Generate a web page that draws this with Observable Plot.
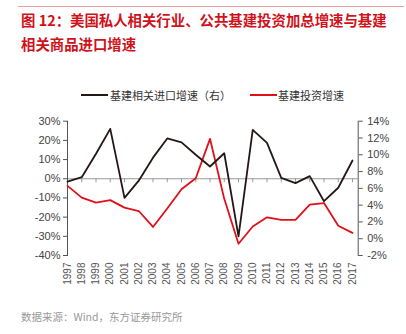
<!DOCTYPE html>
<html><head><meta charset="utf-8">
<script src="https://cdn.jsdelivr.net/npm/d3@7"></script>
<script src="https://cdn.jsdelivr.net/npm/@observablehq/plot@0.6"></script>
<style>
body{margin:0;background:#fff;}
#wrap{position:relative;width:406px;height:334px;overflow:hidden;font-family:"Liberation Sans","Noto Sans CJK SC",sans-serif;}
.abs{position:absolute;white-space:nowrap;}
#rule{left:18px;top:6px;width:386px;height:0;border-top:1.5px solid #e8a0a0;}
.title{left:21px;color:#d0121b;font-weight:bold;font-size:14.4px;font-family:"Noto Sans CJK SC",sans-serif;line-height:18px;}
.leg{top:88px;font-size:11px;color:#333;font-family:"Noto Sans CJK SC",sans-serif;line-height:14px;}
.sw{position:absolute;height:0;border-top:2px solid;}
#cap{left:21px;top:309px;font-size:10.5px;color:#999;font-family:"Noto Sans CJK SC",sans-serif;}
#plot{position:absolute;left:0;top:0;}
</style></head>
<body>
<div id="wrap">
  <div id="rule" class="abs"></div>
  <div class="abs title" style="top:11px">图 12：美国私人相关行业、公共基建投资加总增速与基建</div>
  <div class="abs title" style="top:35px">相关商品进口增速</div>
  <div class="sw" style="left:81px;top:94px;width:27px;border-color:#231815"></div>
  <div class="abs leg" style="left:110px">基建相关进口增速（右）</div>
  <div class="sw" style="left:250px;top:94px;width:27px;border-color:#e0101a"></div>
  <div class="abs leg" style="left:278px">基建投资增速</div>
  <div id="plot"></div>
  <div id="cap" class="abs">数据来源：Wind，东方证券研究所</div>
</div>
<script>
const years = [1997,1998,1999,2000,2001,2002,2003,2004,2005,2006,2007,2008,2009,2010,2011,2012,2013,2014,2015,2016,2017];
// black line, read on left axis
const importGrowth = [-1.5,0.8,13,26,-10,-1,11,21,19,12.5,6.4,13.3,-30,25.5,18.7,0.5,-2.3,1.4,-11.7,-4.7,9.5];
// red line, read on right axis
const investGrowth = [6.3,4.9,4.3,4.6,3.7,3.3,1.4,3.6,5.9,7.2,11.9,4.75,-0.6,1.45,2.55,2.25,2.25,4.05,4.25,1.55,0.7];
const leftTicks = [-40,-30,-20,-10,0,10,20,30];
const rightTicks = [-2,0,2,4,6,8,10,12,14];

// map right-axis values onto left-axis units
const toLeft = r => -40 + (r + 2) * 70 / 16;
const fromLeft = l => Math.round((l + 40) * 16 / 70 - 2);

const black = years.map((y,i)=>({year:y, v:importGrowth[i]}));
const red = years.map((y,i)=>({year:y, v:toLeft(investGrowth[i])}));

const chart = Plot.plot({
  width: 406, height: 334,
  marginLeft: 67, marginRight: 48.3, marginTop: 120.7, marginBottom: 79,
  style: {fontFamily: '"Liberation Sans", Arial, sans-serif', fontSize: "11px", color: "#444", background: "transparent"},
  x: {domain: [1997, 2017.4]},
  y: {domain: [-40, 30]},
  marks: [
    Plot.ruleY([0], {stroke: "#999", strokeWidth: 1}),
    Plot.ruleX(years, {x: d=>d, y1: 0, y2: 0, insetBottom: -4, stroke: "#999"}),
    Plot.frame({anchor: "left", stroke: "#555"}),
    Plot.frame({anchor: "right", stroke: "#555"}),
    Plot.axisY({anchor: "left", ticks: leftTicks, tickFormat: d => d + "%", tickSize: 4, tickPadding: 3, stroke: "#555", label: null}),
    Plot.axisY({anchor: "right", ticks: rightTicks.map(toLeft), tickFormat: d => fromLeft(d) + "%", tickSize: 4, tickPadding: 5, stroke: "#555", label: null}),
    Plot.axisX({anchor: "bottom", ticks: years, tickFormat: d => String(d), tickRotate: -90, tickSize: 0, tickPadding: 7, fontSize: 10, fill: "#555", label: null}),
    Plot.line(red, {x: "year", y: "v", stroke: "#e0101a", strokeWidth: 1.8}),
    Plot.line(black, {x: "year", y: "v", stroke: "#231815", strokeWidth: 1.8})
  ]
});
document.getElementById("plot").appendChild(chart);
</script>
</body></html>
